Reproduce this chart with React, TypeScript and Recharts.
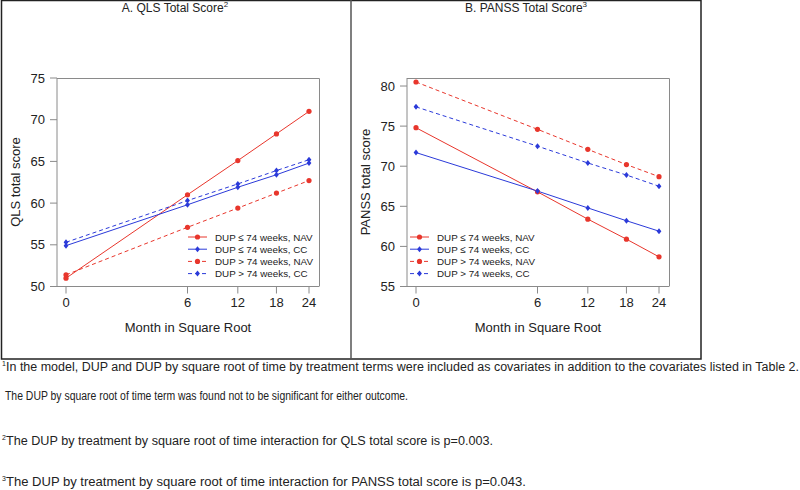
import React from 'react';
import { LineChart, Line, XAxis, YAxis, Legend } from 'recharts';

const months = [0, 6, 12, 18, 24];
const monthTicks = [0, 6, 12, 18, 24];

const qlsShortNav = [51.0, 61.0, 65.1, 68.3, 71.0];
const qlsShortCc = [54.9, 59.8, 61.9, 63.4, 64.8];
const qlsLongNav = [51.4, 57.1, 59.4, 61.2, 62.7];
const qlsLongCc = [55.3, 60.3, 62.3, 63.9, 65.2];
const qlsTicks = [50, 55, 60, 65, 70, 75];

const panssShortNav = [74.8, 66.8, 63.4, 60.9, 58.7];
const panssShortCc = [71.7, 66.9, 64.8, 63.2, 61.9];
const panssLongNav = [80.5, 74.6, 72.1, 70.2, 68.7];
const panssLongCc = [77.4, 72.5, 70.4, 68.9, 67.5];
const panssTicks = [55, 60, 65, 70, 75, 80];

const seriesNames = [
  'DUP \u2264 74 weeks, NAV',
  'DUP \u2264 74 weeks, CC',
  'DUP > 74 weeks, NAV',
  'DUP > 74 weeks, CC',
];

const footnotes = [
  { sup: '1', text: 'In the model, DUP and DUP by square root of time by treatment terms were included as covariates in addition to the covariates listed in Table 2.' },
  { sup: '', text: 'The DUP by square root of time term was found not to be significant for either outcome.' },
  { sup: '2', text: 'The DUP by treatment by square root of time interaction for QLS total score is p=0.003.' },
  { sup: '3', text: 'The DUP by treatment by square root of time interaction for PANSS total score is p=0.043.' },
];

const RED = '#E8362C';
const BLUE = '#2B3AD9';
const BOX = '#8a8a8a';
const FONT = '"Liberation Sans", Arial, Helvetica, sans-serif';

const seriesStyle = [
  { key: 'shortNav', color: RED, dash: undefined, shape: 'circle' },
  { key: 'shortCc', color: BLUE, dash: undefined, shape: 'diamond' },
  { key: 'longNav', color: RED, dash: '4 3', shape: 'circle' },
  { key: 'longCc', color: BLUE, dash: '4 3', shape: 'diamond' },
];

function buildRows(a: number[], b: number[], c: number[], d: number[]) {
  return months.map((m, i) => ({ month: m, shortNav: a[i], shortCc: b[i], longNav: c[i], longCc: d[i] }));
}

const qlsRows = buildRows(qlsShortNav, qlsShortCc, qlsLongNav, qlsLongCc);
const panssRows = buildRows(panssShortNav, panssShortCc, panssLongNav, panssLongCc);

function Marker({ cx, cy, color, shape }: { cx: number; cy: number; color: string; shape: string }) {
  if (shape === 'diamond') {
    const r = 3;
    return <polygon points={`${cx},${cy - r} ${cx + r * 0.8},${cy} ${cx},${cy + r} ${cx - r * 0.8},${cy}`} fill={color} />;
  }
  return <circle cx={cx} cy={cy} r={2.6} fill={color} />;
}

function makeDot(color: string, shape: string) {
  return (props: any) => {
    const { cx, cy, index } = props;
    if (cx == null || cy == null) return <g key={`d-${index}`} />;
    return (
      <g key={`d-${index}`}>
        <Marker cx={cx} cy={cy} color={color} shape={shape} />
      </g>
    );
  };
}

function LegendBox() {
  const rowH = 12.2;
  return (
    <svg width={140} height={52} style={{ display: 'block', overflow: 'visible' }}>
      {seriesStyle.map((s, i) => {
        const y = 6 + i * rowH;
        return (
          <g key={s.key}>
            <line x1={1} x2={20} y1={y} y2={y} stroke={s.color} strokeWidth={1} strokeDasharray={s.dash} />
            <Marker cx={10.5} cy={y} color={s.color} shape={s.shape} />
            <text x={28} y={y} dominantBaseline="central" fontSize={9.8} fontFamily={FONT} fill="#222">
              {seriesNames[i]}
            </text>
          </g>
        );
      })}
    </svg>
  );
}

function Panel({ rows, domain, ticks, legendLeft }: { rows: any[]; domain: number[]; ticks: number[]; legendLeft: number }) {
  return (
    <LineChart width={350} height={360} data={rows} margin={{ top: 78, right: 31, left: 0, bottom: 43.5 }}>
      <XAxis
        dataKey="month"
        type="number"
        scale="sqrt"
        domain={[0, 24]}
        ticks={monthTicks}
        padding={{ left: 9, right: 10 }}
        height={30}
        tickSize={7}
        tickMargin={4}
        stroke={BOX}
        tick={{ fontSize: 13, fill: '#222', fontFamily: FONT }}
        interval={0}
      />
      <YAxis
        type="number"
        domain={domain}
        ticks={ticks}
        width={57}
        tickSize={7}
        tickMargin={5}
        stroke={BOX}
        allowDataOverflow
        tick={{ fontSize: 13, fill: '#222', fontFamily: FONT }}
        interval={0}
      />
      {seriesStyle.map((s, i) => (
        <Line
          key={s.key}
          dataKey={s.key}
          name={seriesNames[i]}
          type="linear"
          stroke={s.color}
          strokeWidth={1}
          strokeDasharray={s.dash}
          dot={makeDot(s.color, s.shape)}
          activeDot={false}
          isAnimationActive={false}
        />
      ))}
      <Legend
        layout="vertical"
        align="center"
        verticalAlign="middle"
        content={() => <LegendBox />}
        wrapperStyle={{ left: legendLeft, top: 231, width: 140, height: 52 }}
      />
    </LineChart>
  );
}

function Overlay() {
  const fnY = [371, 400, 445, 486];
  const fnEnd = [799, 408, 493, 526];
  return (
    <svg width={800} height={490} style={{ position: 'absolute', left: 0, top: 0, pointerEvents: 'none' }}>
      <rect x={1.5} y={0.5} width={699.5} height={358.5} fill="none" stroke="#222" strokeWidth={1.5} />
      <line x1={351} x2={351} y1={0} y2={359} stroke="#555" strokeWidth={1.5} />
      {[0, 350].map((dx) => (
        <path key={`box-${dx}`} d={`M${dx + 57},78.5 H${dx + 319.5} V286.5`} fill="none" stroke={BOX} strokeWidth={1} />
      ))}
      <text x={175} y={12} textAnchor="middle" fontSize={12} fontFamily={FONT} fill="#222">
        A. QLS Total Score<tspan fontSize={8} dy={-5}>2</tspan>
      </text>
      <text x={526} y={12} textAnchor="middle" fontSize={12} fontFamily={FONT} fill="#222">
        B. PANSS Total Score<tspan fontSize={8} dy={-5}>3</tspan>
      </text>
      {[0, 350].map((dx, k) => (
        <g key={k}>
          <text x={dx + 188} y={331.5} textAnchor="middle" fontSize={13} fontFamily={FONT} fill="#222">
            Month in Square Root
          </text>
          <text
            transform={`translate(${dx + 19.5},182) rotate(-90)`}
            textAnchor="middle"
            fontSize={13}
            fontFamily={FONT}
            fill="#222"
          >
            {k === 0 ? 'QLS total score' : 'PANSS total score'}
          </text>
        </g>
      ))}
      {footnotes.map((f, i) => (
        <g key={i}>
          {f.sup ? (
            <text x={2} y={fnY[i] - 5} fontSize={7} fontFamily={FONT} fill="#222">
              {f.sup}
            </text>
          ) : null}
          <text
            x={f.sup ? 6 : 5}
            y={fnY[i]}
            fontSize={12.5}
            fontFamily={FONT}
            fill="#222"
            textLength={fnEnd[i] - (f.sup ? 6 : 5)}
            lengthAdjust="spacingAndGlyphs"
          >
            {f.text}
          </text>
        </g>
      ))}
    </svg>
  );
}

export default function App() {
  return (
    <div style={{ position: 'absolute', left: 0, top: 0, width: 800, height: 490, background: '#fff', overflow: 'hidden' }}>
      <div style={{ position: 'absolute', left: 0, top: 0 }}>
        <Panel rows={qlsRows} domain={[50, 75]} ticks={qlsTicks} legendLeft={187} />
      </div>
      <div style={{ position: 'absolute', left: 350, top: 0 }}>
        <Panel rows={panssRows} domain={[55, 81]} ticks={panssTicks} legendLeft={59} />
      </div>
      <Overlay />
    </div>
  );
}
